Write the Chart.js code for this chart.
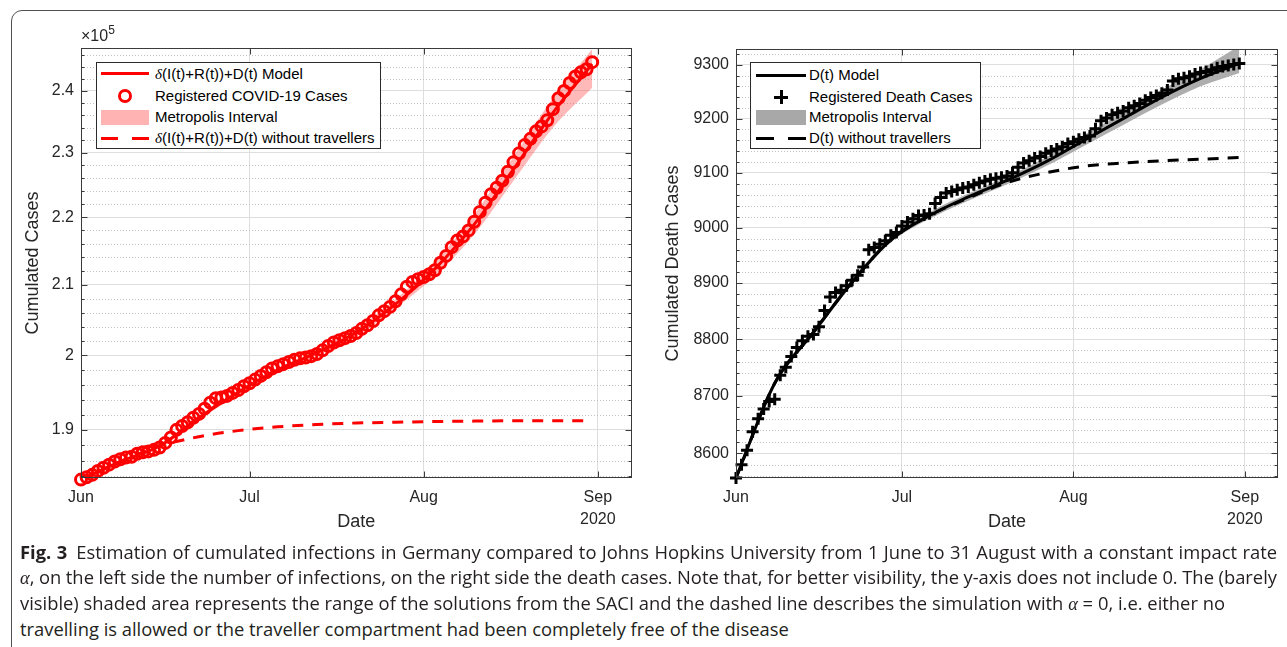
<!DOCTYPE html>
<html>
<head>
<meta charset="utf-8">
<script src="https://cdn.jsdelivr.net/npm/chart.js@4.4.1/dist/chart.umd.min.js"></script>
<style>
html,body{margin:0;padding:0;background:#fff;}
body{width:1287px;height:647px;overflow:hidden;position:relative;font-family:'Liberation Sans',Arial,sans-serif;color:#000;}
#frame{position:absolute;left:11px;top:10px;width:1400px;height:800px;border:1.5px solid #505050;border-radius:11px;box-sizing:border-box;}
canvas{position:absolute;top:0;}
#cL{left:0;}
#cR{left:640px;}
.exp{position:absolute;left:81px;top:27px;font-size:16px;color:#262626;}
.exp sup{font-size:12px;vertical-align:7px;line-height:0;}
.legend{position:absolute;top:62px;height:87px;background:#fff;border:1px solid #2b2b2b;box-sizing:border-box;font-size:15px;color:#000;z-index:2;}
.lt{position:absolute;left:58px;height:20px;line-height:20px;white-space:nowrap;}
.sym{position:absolute;}
.d{font-family:'Liberation Serif','DejaVu Serif',serif;font-style:italic;}
.cl{position:absolute;left:20px;height:26px;line-height:26px;white-space:nowrap;font-family:'Open Sans','Noto Sans',sans-serif;color:#231f20;}
.cl b{font-weight:700;}
.m{font-family:'Liberation Serif','DejaVu Serif',serif;font-style:italic;}
</style>
</head>
<body>
<div id="frame"></div>
<canvas id="cL" width="640" height="545"></canvas>
<canvas id="cR" width="647" height="545"></canvas>
<div class="exp">×10<sup>5</sup></div>

<div class="legend" id="legL" style="left:96px;width:285px;">
  <div class="sym" style="left:4px;top:9px;width:48px;height:3px;background:#ff0000;"></div>
  <div class="lt" style="top:1px;"><span class="d">δ</span>(I(t)+R(t))+D(t) Model</div>
  <div class="sym" style="left:21px;top:26px;width:8px;height:8px;border:3px solid #ff0000;border-radius:50%;"></div>
  <div class="lt" style="top:23px;">Registered COVID-19 Cases</div>
  <div class="sym" style="left:4px;top:47px;width:48px;height:15px;background:#ffb3b3;"></div>
  <div class="lt" style="top:44px;">Metropolis Interval</div>
  <div class="sym" style="left:4px;top:74px;width:17px;height:3px;background:#ff0000;"></div>
  <div class="sym" style="left:35px;top:74px;width:17px;height:3px;background:#ff0000;"></div>
  <div class="lt" style="top:65px;"><span class="d">δ</span>(I(t)+R(t))+D(t) without travellers</div>
</div>

<div class="legend" id="legR" style="left:750px;width:231px;">
  <div class="sym" style="left:5px;top:11px;width:50px;height:3px;background:#000;"></div>
  <div class="lt" style="top:2px;">D(t) Model</div>
  <div class="sym" style="left:23px;top:32.5px;width:14px;height:3px;background:#000;"></div>
  <div class="sym" style="left:28.5px;top:27px;width:3px;height:14px;background:#000;"></div>
  <div class="lt" style="top:24px;">Registered Death Cases</div>
  <div class="sym" style="left:5px;top:47px;width:50px;height:15px;background:#a8a8a8;"></div>
  <div class="lt" style="top:44px;">Metropolis Interval</div>
  <div class="sym" style="left:5px;top:74px;width:18px;height:3px;background:#000;"></div>
  <div class="sym" style="left:37px;top:74px;width:18px;height:3px;background:#000;"></div>
  <div class="lt" style="top:65px;">D(t) without travellers</div>
</div>

<div class="cl" id="l1" style="top:539px;"><b>Fig. 3</b>&ensp;Estimation of cumulated infections in Germany compared to Johns Hopkins University from 1 June to 31 August with a constant impact rate</div>
<div class="cl" id="l2" style="top:564px;"><span class="m">α</span>, on the left side the number of infections, on the right side the death cases. Note that, for better visibility, the y-axis does not include 0. The (barely</div>
<div class="cl" id="l3" style="top:590px;">visible) shaded area represents the range of the solutions from the SACI and the dashed line describes the simulation with <span class="m">α</span> = 0, i.e. either no</div>
<div class="cl" id="l4" style="top:616px;">travelling is allowed or the traveller compartment had been completely free of the disease</div>

<script>
// ---------- DATA ----------
// x axis: days since 1 June 2020
const monthTickDays = [0, 30, 61, 92];
const monthTickLabels = ['Jun', 'Jul', 'Aug', ['Sep', '2020']];

// Registered COVID-19 cases, 1 Jun .. 31 Aug (daily)
const caseRegistered = [
  183600,183900,184200,184700,185100,185500,185900,186200,186400,186500,
  186900,187100,187200,187400,187700,188300,189000,190000,190500,191000,
  191600,192100,192800,193600,194200,194300,194500,194900,195300,195800,
  196200,196700,197200,197700,198200,198500,198800,199100,199400,199600,
  199700,199900,200200,200700,201300,201800,202100,202400,202700,203100,
  203700,204200,204800,205600,206200,206800,207600,208600,209700,210400,
  210800,211100,211500,212100,213200,214200,215500,216500,217100,218000,
  219300,220800,222200,223500,224500,225600,227000,228500,229900,231200,
  232200,233400,234200,235200,237000,238800,240000,241300,242400,243100,
  243600,244800
];
// model curves sampled weekly
const modelDays = [0, 7, 14, 21, 28, 35, 42, 49, 56, 63, 70, 77, 84, 91];
const caseModel     = [183600,185900,187900,191600,195000,198000,200400,203200,207200,212300,218900,227400,236400,244500];
const caseBandLow   = [183550,185750,187700,191300,194700,197700,200000,202700,206600,211300,217400,225600,234000,240500];
const caseBandHigh  = [183650,186050,188100,191900,195300,198300,200800,203700,207900,213300,220400,229400,238800,247000];
const caseNoTravel  = [183600,185900,187900,189100,189900,190400,190700,190900,191000,191100,191150,191200,191200,191200];
const caseYTicks = [190000, 200000, 210000, 220000, 230000, 240000];

// Registered death cases, 1 Jun .. 31 Aug (daily)
const deathRegistered = [
  8557,8580,8605,8637,8660,8677,8690,8694,8736,8750,
  8769,8785,8797,8805,8808,8822,8851,8875,8883,8887,
  8895,8905,8914,8929,8960,8964,8970,8976,8986,8991,
  9003,9010,9016,9022,9023,9025,9044,9055,9063,9066,
  9069,9072,9074,9078,9082,9085,9088,9090,9092,9094,
  9100,9110,9118,9122,9127,9130,9136,9140,9144,9148,
  9154,9157,9162,9165,9168,9181,9196,9201,9207,9211,
  9214,9220,9224,9228,9234,9239,9243,9247,9253,9270,
  9274,9276,9279,9283,9286,9288,9291,9295,9297,9299,
  9301,9303
];
const deathModel    = [8557,8722,8812,8902,8978,9022,9056,9086,9120,9160,9200,9240,9275,9303];
const deathBandLow  = [8556,8718,8807,8897,8973,9016,9049,9079,9112,9150,9188,9226,9260,9285];
const deathBandHigh = [8558,8726,8817,8907,8983,9028,9062,9093,9128,9170,9212,9254,9292,9336];
const deathNoTravel = [8557,8722,8812,8902,8978,9022,9054,9082,9100,9112,9118,9122,9125,9128];
const deathYTicks = [8600, 8700, 8800, 8900, 9000, 9100, 9200, 9300];

// ---------- CHARTS ----------
const FONT = "'Liberation Sans', Arial, sans-serif";
Chart.defaults.font.family = FONT;
Chart.defaults.color = '#262626';

const daily = arr => arr.map((v, i) => ({x: i, y: v}));
const weekly = arr => arr.map((v, i) => ({x: modelDays[i], y: arr[i]}));

function minorValues(lo, hi, step, majorStep) {
  const out = [];
  for (let v = lo; v <= hi + 1e-9; v += step) {
    if (Math.abs(v / majorStep - Math.round(v / majorStep)) > 1e-6) out.push(v);
  }
  return out;
}

function axesPlugin(minor, majors) {
  return {
    id: 'matlabAxes',
    beforeDatasetsDraw(chart) {
      const {ctx, chartArea: a, scales: {y}} = chart;
      ctx.save();
      ctx.strokeStyle = '#c2c2c2';
      ctx.lineWidth = 1;
      ctx.setLineDash([1, 2]);
      minor.forEach(v => {
        const p = Math.round(y.getPixelForValue(v)) + 0.5;
        if (p < a.top || p > a.bottom) return;
        ctx.beginPath(); ctx.moveTo(a.left, p); ctx.lineTo(a.right, p); ctx.stroke();
      });
      ctx.restore();
    },
    afterDatasetsDraw(chart) {
      const {ctx, chartArea: a, scales: {x, y}} = chart;
      ctx.save();
      ctx.strokeStyle = '#3a3a3a';
      ctx.lineWidth = 1;
      const L = Math.round(a.left) + 0.5, R = Math.round(a.right) - 0.5;
      const T = Math.round(a.top) + 0.5, B = Math.round(a.bottom) - 0.5;
      ctx.strokeRect(L, T, R - L, B - T);
      ctx.beginPath();
      majors.forEach(v => {
        const p = Math.round(y.getPixelForValue(v)) + 0.5;
        ctx.moveTo(L, p); ctx.lineTo(L + 6, p);
        ctx.moveTo(R, p); ctx.lineTo(R - 6, p);
      });
      minor.forEach(v => {
        const p = Math.round(y.getPixelForValue(v)) + 0.5;
        if (p < a.top || p > a.bottom) return;
        ctx.moveTo(L, p); ctx.lineTo(L + 3, p);
        ctx.moveTo(R, p); ctx.lineTo(R - 3, p);
      });
      monthTickDays.forEach(d => {
        const p = Math.round(x.getPixelForValue(d)) + 0.5;
        ctx.moveTo(p, B); ctx.lineTo(p, B - 6);
        ctx.moveTo(p, T); ctx.lineTo(p, T + 6);
      });
      ctx.stroke();
      ctx.restore();
    }
  };
}

function makeChart(id, o) {
  const datasets = [
    {label: 'registered', data: daily(o.obs), showLine: false, pointStyle: o.pointStyle,
     pointRadius: o.pointRadius, pointBorderWidth: o.pointBorderWidth, pointBorderColor: o.color,
     pointBackgroundColor: 'rgba(0,0,0,0)', borderColor: o.color, order: 0, clip: false},
    {label: 'model', data: weekly(o.model), borderColor: o.color, borderWidth: 3, pointRadius: 0,
     cubicInterpolationMode: 'monotone', fill: false, order: 1},
    {label: 'noTravel', data: weekly(o.noTravel), borderColor: o.color, borderWidth: 3, borderDash: [11, 9],
     pointRadius: 0, cubicInterpolationMode: 'monotone', fill: false, order: 2},
    {label: 'bandLow', data: weekly(o.bandLow), borderWidth: 0, borderColor: 'rgba(0,0,0,0)', pointRadius: 0,
     cubicInterpolationMode: 'monotone', fill: false, order: 4},
    {label: 'bandHigh', data: weekly(o.bandHigh), borderWidth: 0, borderColor: 'rgba(0,0,0,0)', pointRadius: 0,
     cubicInterpolationMode: 'monotone', fill: '-1', backgroundColor: o.bandColor, order: 3}
  ];
  return new Chart(document.getElementById(id), {
    type: 'line',
    data: {datasets},
    options: {
      responsive: false, animation: false, devicePixelRatio: 1,
      layout: {padding: {left: 22, top: o.top, right: o.right, bottom: 12}},
      plugins: {legend: {display: false}, tooltip: {enabled: false}},
      scales: {
        x: {
          type: 'linear', min: 0, max: 98,
          afterBuildTicks: s => { s.ticks = monthTickDays.map(v => ({value: v})); },
          afterFit: s => { s.height = 55; },
          grid: {color: '#dedede', lineWidth: 1, drawTicks: false},
          border: {display: false},
          ticks: {callback: (v, i) => monthTickLabels[i], autoSkip: false, maxRotation: 0,
                  font: {size: 16, lineHeight: 1.375}, color: '#262626', padding: 9},
          title: {display: true, text: 'Date', font: {size: 18, lineHeight: 1.2}, color: '#262626', padding: 0}
        },
        y: {
          type: 'logarithmic', min: o.ymin, max: o.ymax,
          afterBuildTicks: s => { s.ticks = o.yTicks.map(v => ({value: v})); },
          afterFit: s => { s.width = o.yWidth; },
          grid: {color: '#dedede', lineWidth: 1, drawTicks: false},
          border: {display: false},
          ticks: {callback: o.fmt, autoSkip: false, font: {size: 16}, color: '#262626', padding: 7},
          title: {display: true, text: o.yTitle, font: {size: 18, lineHeight: 1.2}, color: '#262626', padding: 0}
        }
      }
    },
    plugins: [axesPlugin(o.minor, o.yTicks)]
  });
}

makeChart('cL', {
  obs: caseRegistered, model: caseModel, noTravel: caseNoTravel, bandLow: caseBandLow, bandHigh: caseBandHigh,
  color: '#ff0000', bandColor: 'rgba(255,70,70,0.38)', pointStyle: 'circle',
  pointRadius: 5.5, pointBorderWidth: 3,
  ymin: 183800, ymax: 247200, yTicks: caseYTicks, minor: minorValues(184000, 246000, 2000, 10000),
  fmt: v => String(v / 1e5), yTitle: 'Cumulated Cases', yWidth: 59, top: 48, right: 8
});

makeChart('cR', {
  obs: deathRegistered, model: deathModel, noTravel: deathNoTravel, bandLow: deathBandLow, bandHigh: deathBandHigh,
  color: '#000000', bandColor: 'rgba(160,160,160,0.85)', pointStyle: 'cross', pointRadius: 6, pointBorderWidth: 3,
  ymin: 8557, ymax: 9330, yTicks: deathYTicks, minor: minorValues(8560, 9320, 20, 100),
  fmt: v => String(v), yTitle: 'Cumulated Death Cases', yWidth: 74, top: 49, right: 7
});

// ---------- caption fitting ----------
(function () {
  const ids = ['l1', 'l2', 'l3', 'l4'];
  const targets = [1257, 1257, 1205, null];
  const els = ids.map(i => document.getElementById(i));
  let fs = 16.8;
  els.forEach(e => e.style.fontSize = fs + 'px');
  const w4 = els[3].getBoundingClientRect().width;
  fs = fs * 768 / w4;
  els.forEach(e => e.style.fontSize = fs + 'px');
  els.forEach((e, k) => {
    if (!targets[k]) return;
    const w = e.getBoundingClientRect().width;
    const n = (e.textContent.match(/ /g) || []).length;
    if (n > 0) e.style.wordSpacing = ((targets[k] - w) / n) + 'px';
  });
})();
</script>
</body>
</html>
